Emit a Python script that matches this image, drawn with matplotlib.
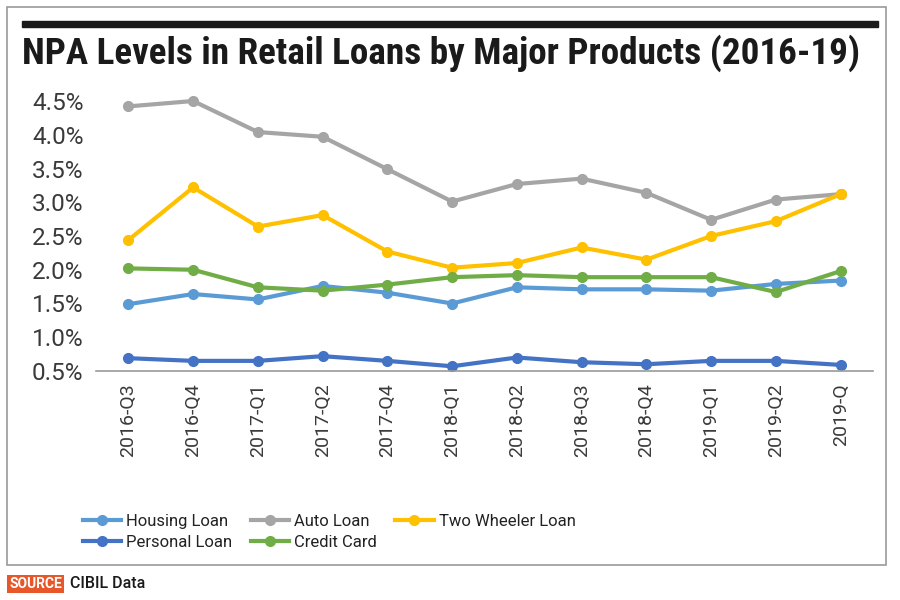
import matplotlib
matplotlib.use("Agg")
import matplotlib.pyplot as plt
from matplotlib.patches import Rectangle
from matplotlib import font_manager

quarters = ["2016-Q3", "2016-Q4", "2017-Q1", "2017-Q2", "2017-Q4", "2018-Q1",
            "2018-Q2", "2018-Q3", "2018-Q4", "2019-Q1", "2019-Q2", "2019-Q"]

housing = [1.49, 1.64, 1.56, 1.76, 1.66, 1.50, 1.74, 1.71, 1.71, 1.69, 1.79, 1.84]
auto = [4.42, 4.50, 4.04, 3.97, 3.49, 3.01, 3.27, 3.35, 3.14, 2.74, 3.04, 3.12]
two_wheeler = [2.44, 3.22, 2.64, 2.81, 2.27, 2.03, 2.10, 2.33, 2.15, 2.50, 2.72, 3.12]
personal = [0.69, 0.65, 0.65, 0.72, 0.65, 0.57, 0.70, 0.63, 0.60, 0.65, 0.65, 0.59]
credit_card = [2.02, 2.00, 1.74, 1.69, 1.78, 1.89, 1.92, 1.89, 1.89, 1.89, 1.67, 1.98]

yticks = [0.5, 1.0, 1.5, 2.0, 2.5, 3.0, 3.5, 4.0, 4.5]

names = {f.name for f in font_manager.fontManager.ttflist}
title_font = "Roboto"
for cand in ["Roboto Condensed", "Liberation Sans Narrow", "Open Sans Condensed"]:
    if cand in names:
        title_font = cand
        break

fig = plt.figure(figsize=(9, 6), dpi=100)

# outer frame and top rule
fig.patches.append(Rectangle((7 / 900, 1 - 565 / 600), 879 / 900, 558 / 600,
                             transform=fig.transFigure, fill=False,
                             edgecolor="#9a9a9a", linewidth=1.2))
fig.patches.append(Rectangle((22 / 900, 1 - 27 / 600), 856 / 900, 6 / 600,
                             transform=fig.transFigure, color="#1a1a1a"))

title = fig.text(22 / 900, 1 - 53 / 600,
                 "NPA Levels in Retail Loans by Major Products (2016-19)",
                 fontsize=27.5, fontweight="bold", family=title_font,
                 color="#1a1a1a", va="center", ha="left")
# shrink the title until it fits the rule width
renderer = fig.canvas.get_renderer()
w = title.get_window_extent(renderer).width
if w > 840:
    title.set_fontsize(27.5 * 840 / w)

ax = fig.add_axes([96 / 900, 1 - 371 / 600, 777 / 900, 270 / 600])

x = list(range(len(quarters)))
series = [
    ("Housing Loan", housing, "#5B9BD5"),
    ("Personal Loan", personal, "#4472C4"),
    ("Auto Loan", auto, "#A5A5A5"),
    ("Credit Card", credit_card, "#70AD47"),
    ("Two Wheeler Loan", two_wheeler, "#FFC000"),
]
draw_order = [0, 2, 4, 1, 3]
lines = {}
for i in draw_order:
    label, vals, color = series[i]
    (ln,) = ax.plot(x, vals, color=color, linewidth=3, marker="o",
                    markersize=7, label=label, clip_on=False)
    lines[label] = ln

ax.set_xlim(-0.5, len(quarters) - 0.5)
ax.set_ylim(0.5, 4.5)
ax.set_yticks(yticks)
ax.set_yticklabels([f"{v:.1f}%" for v in yticks])
ax.set_xticks(x)
ax.set_xticklabels(quarters, rotation=90)

for s in ["top", "right", "left"]:
    ax.spines[s].set_visible(False)
ax.spines["bottom"].set_color("#9a9a9a")
ax.spines["bottom"].set_linewidth(1.2)
ax.tick_params(axis="both", length=0, colors="#3a3a3a")
ax.tick_params(axis="y", pad=9, labelsize=17.5)
ax.tick_params(axis="x", pad=9, labelsize=14)
for t in ax.get_xticklabels() + ax.get_yticklabels():
    t.set_family("Roboto")

handles = [lines[s[0]] for s in series]
fig.legend(handles, [s[0] for s in series], ncol=3, loc="upper left",
           bbox_to_anchor=(83 / 900, 1 - 514 / 600), frameon=False,
           prop={"family": "Roboto", "size": 12}, handlelength=2.3,
           handletextpad=0.3, columnspacing=1.1, labelspacing=0.35,
           borderaxespad=0, borderpad=0, labelcolor="#222222")

fig.text(9 / 900, 1 - 584 / 600, "SOURCE", fontsize=10, color="white",
         family="Roboto", fontweight="bold", va="center", ha="left",
         bbox=dict(boxstyle="square,pad=0.15", facecolor="#E8572A", edgecolor="none"))
fig.text(70 / 900, 1 - 584 / 600, "CIBIL Data", fontsize=11.5, color="#1a1a1a",
         family="Roboto", fontweight="medium", va="center", ha="left")

fig.savefig("out.png", dpi=100)
